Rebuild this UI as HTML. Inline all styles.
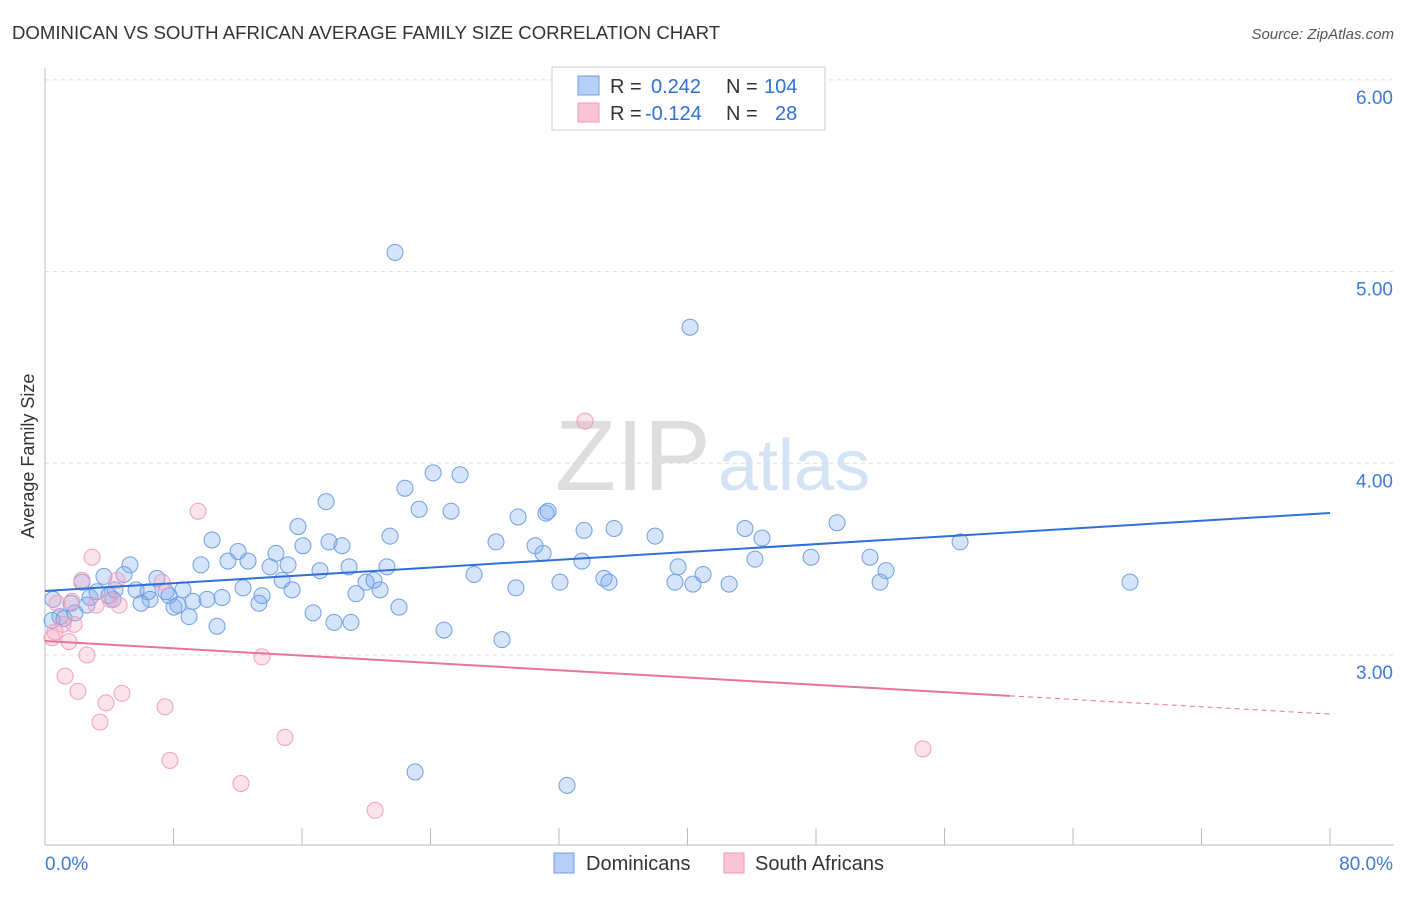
<!DOCTYPE html>
<html><head><meta charset="utf-8"><style>
body{margin:0;background:#fff;font-family:"Liberation Sans",sans-serif;}
svg text{font-family:"Liberation Sans",sans-serif;}
</style></head><body>
<svg id="chart" width="1406" height="892">
<text x="12" y="39" font-size="18.6" fill="#333">DOMINICAN VS SOUTH AFRICAN AVERAGE FAMILY SIZE CORRELATION CHART</text>
<text x="1394" y="39" font-size="15" fill="#555" font-style="italic" text-anchor="end">Source: ZipAtlas.com</text>
<text transform="translate(34,456) rotate(-90)" font-size="18" fill="#333" text-anchor="middle">Average Family Size</text>
<g><text x="555" y="490" font-size="100" fill="#ddd" font-family="Liberation Serif,serif">ZIP</text><text x="718" y="490" font-size="72" fill="#d3e2f5">atlas</text></g>
<g id="grid"></g><g id="axes"></g><g id="pts"></g><g id="trend"></g>
<g>
<rect x="552" y="67" width="273" height="63" fill="#fff" stroke="#ccc"/>
<rect x="578" y="76" width="21" height="19" fill="#b5cff5" stroke="#6d9de0"/>
<rect x="578" y="103" width="21" height="19" fill="#f9c4d4" stroke="#ee9ab5"/>
<text x="610" y="93" font-size="20" fill="#333">R = <tspan x="651" fill="#2f6fd6">0.242</tspan><tspan x="726">N =</tspan><tspan x="764" fill="#2f6fd6">104</tspan></text>
<text x="610" y="120" font-size="20" fill="#333">R = <tspan x="645" fill="#2f6fd6">-0.124</tspan><tspan x="726">N =</tspan><tspan x="775" fill="#2f6fd6">28</tspan></text>
</g>
<g>
<rect x="554" y="853" width="20" height="20" fill="#b5cff5" stroke="#6d9de0"/>
<text x="586" y="870" font-size="20" fill="#333">Dominicans</text>
<rect x="724" y="853" width="20" height="20" fill="#f9c4d4" stroke="#ee9ab5"/>
<text x="755" y="870" font-size="20" fill="#333">South Africans</text>
</g>
</svg>
<script>
const yTicks=[3,4,5,6];
const yTickLabels=["3.00","4.00","5.00","6.00"];
const xTickLabels=["0.0%","80.0%"];
const blueX=[21.79,40.16,24.16,25.84,22.41,17.50,23.29,25.28,29.45,31.32,31.19,49.31,43.58,15.75,33.56,35.43,37.98,44.64,10.40,21.48,17.68,18.49,16.06,28.08,30.51,12.02,14.38,56.97,31.01,47.69,51.36,44.20,5.29,9.71,11.39,12.64,14.01,15.13,17.12,18.93,21.29,33.43,39.41,52.36,3.67,4.92,2.30,6.97,14.76,19.99,20.48,26.71,34.80,40.97,32.06,35.11,39.22,40.34,42.59,51.99,67.55,5.67,8.59,12.33,15.38,29.32,20.86,3.24,4.36,6.41,7.53,19.36,7.72,3.98,4.23,6.54,11.02,13.51,10.09,9.21,2.80,1.62,0.50,2.61,5.98,8.03,8.28,13.32,22.04,1.87,8.97,16.69,0.93,1.18,0.44,17.99,19.05,10.71,24.84,28.45,23.04,32.50];
const blueY=[5.10,4.71,3.95,3.94,3.87,3.80,3.76,3.75,3.72,3.75,3.74,3.69,3.66,3.67,3.65,3.66,3.62,3.61,3.60,3.62,3.59,3.57,3.57,3.59,3.57,3.54,3.53,3.59,3.53,3.51,3.51,3.50,3.47,3.47,3.49,3.49,3.46,3.47,3.44,3.46,3.46,3.49,3.46,3.44,3.41,3.42,3.38,3.40,3.39,3.38,3.39,3.42,3.40,3.42,3.38,3.38,3.38,3.37,3.37,3.38,3.38,3.34,3.34,3.35,3.34,3.35,3.34,3.33,3.34,3.33,3.33,3.32,3.31,3.31,3.29,3.29,3.30,3.31,3.29,3.28,3.30,3.27,3.29,3.26,3.27,3.25,3.26,3.27,3.25,3.22,3.20,3.22,3.20,3.19,3.18,3.17,3.17,3.15,3.13,3.08,2.39,2.32];
const pinkX=[33.62,9.53,2.93,2.30,7.28,4.48,0.75,4.61,4.05,1.68,3.18,1.12,0.62,1.81,0.44,1.49,2.61,13.51,1.25,2.05,4.79,3.80,7.47,3.42,14.94,7.78,54.66,12.20,20.55];
const pinkY=[4.22,3.75,3.51,3.39,3.38,3.39,3.27,3.26,3.29,3.28,3.26,3.16,3.12,3.16,3.09,3.07,3.00,2.99,2.89,2.81,2.80,2.75,2.73,2.65,2.57,2.45,2.51,2.33,2.19];
const blueTrend=[3.334,3.741];
const pinkTrend=[3.073,2.692];
const pinkSolidEnd=60.08;

const NS="http://www.w3.org/2000/svg";
const xS=v=>45+v/80*1285;
const yS=v=>655-(v-3)*191.7;
function mk(tag,attrs,parent){const e=document.createElementNS(NS,tag);for(const k in attrs)e.setAttribute(k,attrs[k]);document.getElementById(parent).appendChild(e);return e;}
yTicks.forEach((t,i)=>{
 const g=mk('line',{x1:45,x2:1394,y1:yS(t),y2:yS(t),stroke:'#ddd','stroke-dasharray':'4,4'},'grid');
 
 
 const l=mk('text',{x:1393,y:yS(t)+24,'font-size':19,fill:'#3d7ad9','text-anchor':'end'},'grid');
 l.textContent=yTickLabels[i];
 
 
});
const ax=mk('line',{x1:45,x2:45,y1:68,y2:845,stroke:'#bbb'},'axes');


const bx=mk('line',{x1:45,x2:1394,y1:845,y2:845,stroke:'#bbb'},'axes');


for(let i=0;i<=10;i++){
 const t=mk('line',{x1:xS(i*8),x2:xS(i*8),y1:828,y2:845,stroke:'#bbb'},'axes');
 
 
}
[[0,'start'],[80,'end']].forEach((p,i)=>{
 const l=mk('text',{x:xS(p[0])+(i?63:0),y:870,'font-size':19,fill:'#3d7ad9','text-anchor':p[1]},'axes');
 l.textContent=xTickLabels[i];
 
 
});
blueX.forEach((x,i)=>{
 const c=mk('circle',{cx:xS(x),cy:yS(blueY[i]),r:8,fill:'rgba(120,165,235,0.3)',stroke:'#6f9fe3','stroke-width':1},'pts');
 
 
});
pinkX.forEach((x,i)=>{
 const c=mk('circle',{cx:xS(x),cy:yS(pinkY[i]),r:8,fill:'rgba(245,160,190,0.3)',stroke:'#f0a0bb','stroke-width':1},'pts');
 
 
});
const bt=mk('line',{x1:xS(0),y1:yS(blueTrend[0]),x2:xS(80),y2:yS(blueTrend[1]),stroke:'#2f6fd6','stroke-width':2},'trend');


const pAt=x=>pinkTrend[0]+(pinkTrend[1]-pinkTrend[0])*x/80;
const pt=mk('line',{x1:xS(0),y1:yS(pinkTrend[0]),x2:xS(pinkSolidEnd),y2:yS(pAt(pinkSolidEnd)),stroke:'#e8739b','stroke-width':2},'trend');


const pd=mk('line',{x1:xS(pinkSolidEnd),y1:yS(pAt(pinkSolidEnd)),x2:xS(80),y2:yS(pinkTrend[1]),stroke:'#e8739b','stroke-width':1,'stroke-dasharray':'5,4'},'trend');


</script>
</body></html>
